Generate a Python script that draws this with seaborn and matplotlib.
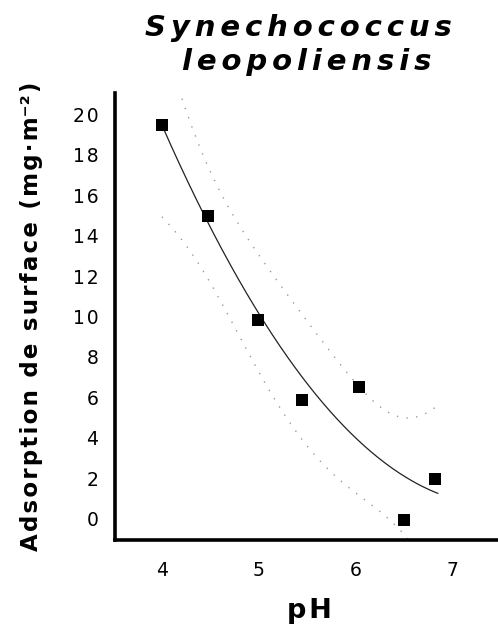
import numpy as np
import pandas as pd
import matplotlib
matplotlib.use("Agg")
import matplotlib.pyplot as plt
import seaborn as sns

# Measured adsorption vs pH
ph = [4.0, 4.48, 4.99, 5.45, 6.03, 6.50, 6.82]
adsorption = [19.45, 14.95, 9.83, 5.88, 6.52, -0.05, 1.98]
x_ticks = [4, 5, 6, 7]
y_ticks = [0, 2, 4, 6, 8, 10, 12, 14, 16, 18, 20]

sns.set_theme(style="white")
plt.rcParams["font.family"] = ["DejaVu Sans"]
for key in ("text.color", "axes.labelcolor", "xtick.color", "ytick.color"):
    plt.rcParams[key] = "black"

HAIR = "\u200a"
SIXTH = "\u2006"


def spaced(s, gap=HAIR):
    """Open up letter spacing by putting a narrow space between characters."""
    return gap.join(s)


df = pd.DataFrame({"pH": ph, "ads": adsorption})

# Quadratic regression with 95% confidence band of the mean
xa = np.asarray(ph)
ya = np.asarray(adsorption)
coef = np.polyfit(xa, ya, 2)
X = np.vander(xa, 3)
resid = ya - X @ coef
dof = len(xa) - 3
s2 = resid @ resid / dof
cov = s2 * np.linalg.inv(X.T @ X)
t95 = 2.776
xf = np.linspace(xa.min(), 6.85, 200)
Xf = np.vander(xf, 3)
yf = Xf @ coef
se = np.sqrt(np.einsum("ij,jk,ik->i", Xf, cov, Xf))
fit = pd.DataFrame({"pH": xf, "fit": yf, "lo": yf - t95 * se, "hi": yf + t95 * se})

fig = plt.figure(figsize=(4.98, 6.33), dpi=100)
ax = fig.add_axes([115 / 498, 1 - 540 / 633, 383 / 498, 447 / 633])

sns.lineplot(data=fit, x="pH", y="fit", ax=ax, color="#222222", lw=0.9)
sns.lineplot(data=fit, x="pH", y="hi", ax=ax, color="#999999", lw=1.0,
             linestyle=(0, (1, 6)))
sns.lineplot(data=fit, x="pH", y="lo", ax=ax, color="#999999", lw=1.0,
             linestyle=(0, (1, 6)))
sns.scatterplot(data=df, x="pH", y="ads", ax=ax, marker="s", s=72,
                color="black", edgecolor="black", linewidth=0, zorder=5)

ax.set_xlim(3.515, 7.47)
ax.set_ylim(-1.04, 21.04)
ax.set_xticks(x_ticks)
ax.set_yticks(y_ticks)
ax.set_xticklabels([str(v) for v in x_ticks])
ax.set_yticklabels([spaced(str(v)) for v in y_ticks])
ax.tick_params(axis="both", direction="in", length=8, width=1.2,
               labelsize=13.5, colors="black")
ax.tick_params(axis="y", pad=12)
ax.tick_params(axis="x", pad=15)
for side in ("top", "right"):
    ax.spines[side].set_visible(False)
for side in ("left", "bottom"):
    ax.spines[side].set_linewidth(2.6)
    ax.spines[side].set_color("black")

ax.set_xlabel(spaced("pH"), fontsize=19.5, fontweight="bold")
ax.xaxis.set_label_coords((309 - 115) / 383, -(598 - 540) / 447)
ax.set_ylabel(spaced("Adsorption de surface (mg·m") + "⁻²" + HAIR + ")",
              fontsize=16.5, fontweight="bold")
ax.yaxis.set_label_coords(-(115 - 43) / 383, 0.5)

fig.text(298 / 498, 1 - 36 / 633, spaced("Synechococcus", SIXTH), ha="center",
         va="baseline", fontsize=21, fontweight="bold", fontstyle="italic")
fig.text(307 / 498, 1 - 70 / 633, spaced("leopoliensis", SIXTH), ha="center",
         va="baseline", fontsize=21, fontweight="bold", fontstyle="italic")

fig.savefig("out.png", dpi=100)
